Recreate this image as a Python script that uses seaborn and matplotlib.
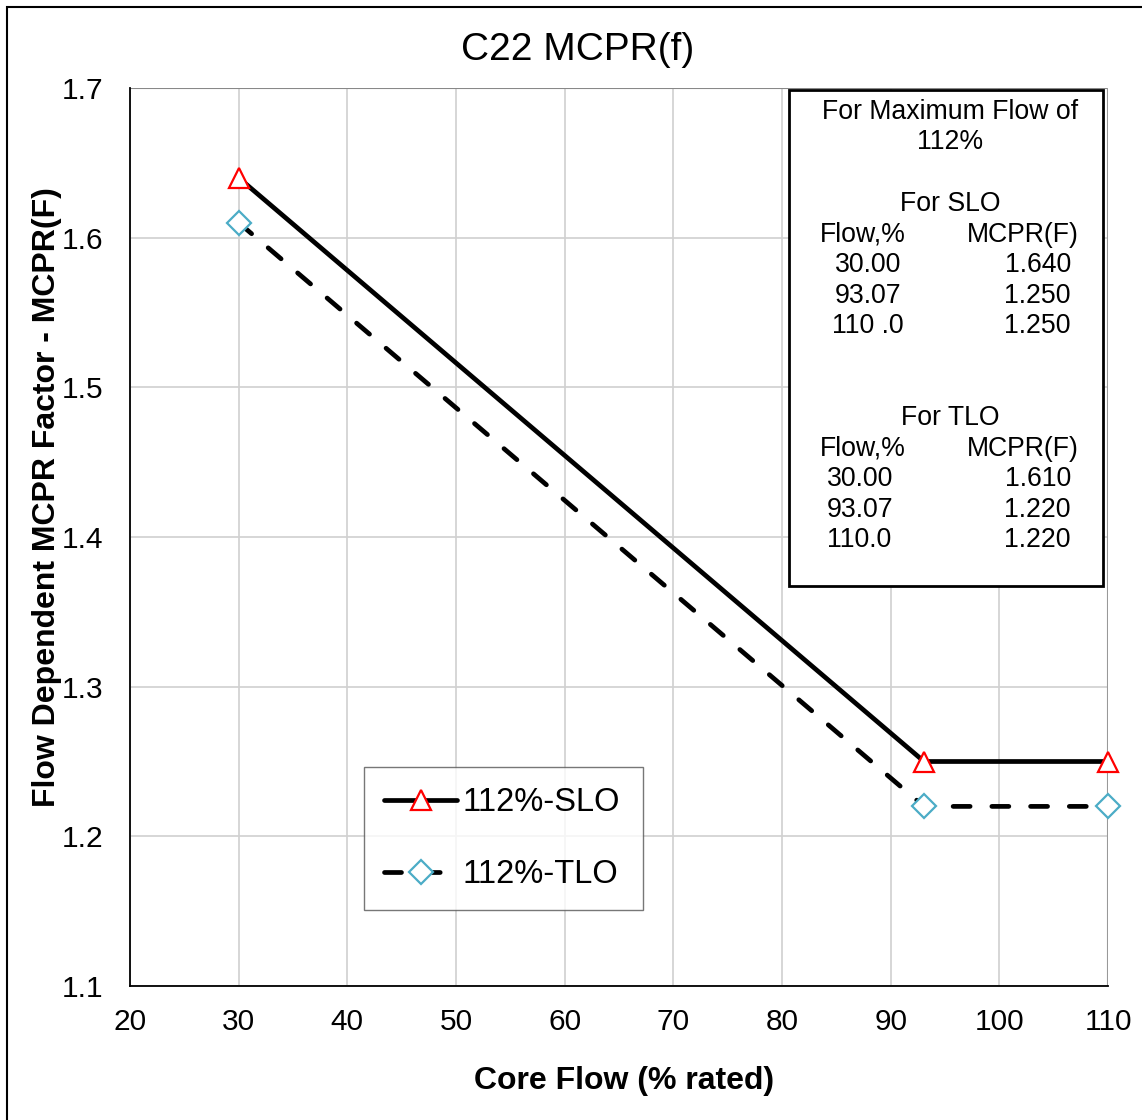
import matplotlib
matplotlib.use("Agg")
import matplotlib.pyplot as plt
import seaborn as sns
import pandas as pd
from matplotlib.patches import Rectangle

# data
flow = [30.0, 93.07, 110.0]
slo_mcpr = [1.640, 1.250, 1.250]
tlo_mcpr = [1.610, 1.220, 1.220]
slo_label = "112%-SLO"
tlo_label = "112%-TLO"

box_header = ["For Maximum Flow of", "112%"]
slo_rows = ["30.00", "93.07", "110 .0"]
slo_vals = ["1.640", "1.250", "1.250"]
tlo_rows = ["30.00", "93.07", "110.0"]
tlo_vals = ["1.610", "1.220", "1.220"]

df = pd.DataFrame({"flow": flow, "slo": slo_mcpr, "tlo": tlo_mcpr})

sns.set_style("white")
plt.rcParams['font.family'] = ['Liberation Sans', 'DejaVu Sans']
plt.rcParams['text.color'] = 'black'
plt.rcParams['axes.labelcolor'] = 'black'

W, H = 1142, 1120
fig = plt.figure(figsize=(W / 100, H / 100), dpi=100)
ax = fig.add_axes([130 / W, 1 - 986 / H, 978 / W, 898 / H])


def px(x, y):
    return x / W, 1 - y / H


# figure border (only top and left edges fall inside the image)
fig.patches.append(Rectangle((7 / W, -0.01), 1.0, (1 - 7 / H) + 0.01,
                             transform=fig.transFigure, fill=False,
                             edgecolor="black", linewidth=1.5))

sns.lineplot(data=df, x="flow", y="slo", ax=ax, color="black", linewidth=3.4,
             marker="^", markersize=15, markerfacecolor="white",
             markeredgecolor="red", markeredgewidth=1.6, label=slo_label,
             zorder=4, clip_on=False)
sns.lineplot(data=df, x="flow", y="tlo", ax=ax, color="black", linewidth=3.4,
             linestyle=(0, (3.6, 4.6)), dash_capstyle="round", marker="D",
             markersize=12, markerfacecolor="white", markeredgecolor="#4BACC6",
             markeredgewidth=1.6, label=tlo_label, zorder=4, clip_on=False)

ax.set_xlim(20, 110)
ax.set_ylim(1.1, 1.7)
ax.set_xticks(range(20, 111, 10))
ax.set_yticks([1.1, 1.2, 1.3, 1.4, 1.5, 1.6, 1.7])
ax.set_yticklabels(["1.1", "1.2", "1.3", "1.4", "1.5", "1.6", "1.7"])
ax.grid(True, color="#d0d0d0", linewidth=1.2)
ax.axhline(1.7, color="#888888", linewidth=1.5, zorder=1)
ax.axvline(110, color="#999999", linewidth=1.5, zorder=1)
for s in ["top", "right"]:
    ax.spines[s].set_visible(False)
for s in ["left", "bottom"]:
    ax.spines[s].set_color("black")
    ax.spines[s].set_linewidth(1.3)
ax.tick_params(axis="both", direction="out", length=8, width=1.2,
               color="#888888", labelcolor="black", labelsize=21.5)
ax.tick_params(axis="x", pad=8)
ax.tick_params(axis="y", pad=11)

ax.set_xlabel("Core Flow (% rated)", fontsize=23, fontweight="bold")
ax.set_ylabel("Flow Dependent MCPR Factor - MCPR(F)", fontsize=23, fontweight="bold")
ax.xaxis.set_label_coords(0.505, -0.089)
ax.yaxis.set_label_coords(-0.0695, 0.545)
fig.text(*px(578, 50), "C22 MCPR(f)", fontsize=28, ha="center", va="center")

leg = ax.legend(loc="upper left", bbox_to_anchor=(0.239, 0.2439 - 0.159, 0.286, 0.159),
                mode="expand", borderaxespad=0, fontsize=23.5, frameon=True,
                fancybox=False, handlelength=2.25, labelspacing=1.25,
                borderpad=0.62, handletextpad=0.15)
leg.get_frame().set_edgecolor("#555555")
leg.get_frame().set_linewidth(1.0)

# info box
fig.patches.append(Rectangle(px(789, 586), (1103 - 789) / W, (586 - 90) / H,
                             transform=fig.transFigure, fill=True, facecolor="white",
                             edgecolor="black", linewidth=2.0, zorder=5))
fs = 19.2
step = 30.6


def put(x, y, s, ha):
    fig.text(*px(x, y), s, fontsize=fs, ha=ha, va="center", zorder=6)


put(950, 112, box_header[0], "center")
put(950, 142, box_header[1], "center")
y0 = 204
put(950, y0, "For SLO", "center")
put(820, y0 + step, "Flow,%", "left")
put(1079, y0 + step, "MCPR(F)", "right")
for i, (a, b) in enumerate(zip(slo_rows, slo_vals)):
    put(868, y0 + step * (i + 2), a, "center")
    put(1071, y0 + step * (i + 2), b, "right")
y1 = 418
put(950, y1, "For TLO", "center")
put(820, y1 + step, "Flow,%", "left")
put(1079, y1 + step, "MCPR(F)", "right")
for i, (a, b) in enumerate(zip(tlo_rows, tlo_vals)):
    put(827, y1 + step * (i + 2), a, "left")
    put(1071, y1 + step * (i + 2), b, "right")

fig.savefig("out.png", dpi=100)
